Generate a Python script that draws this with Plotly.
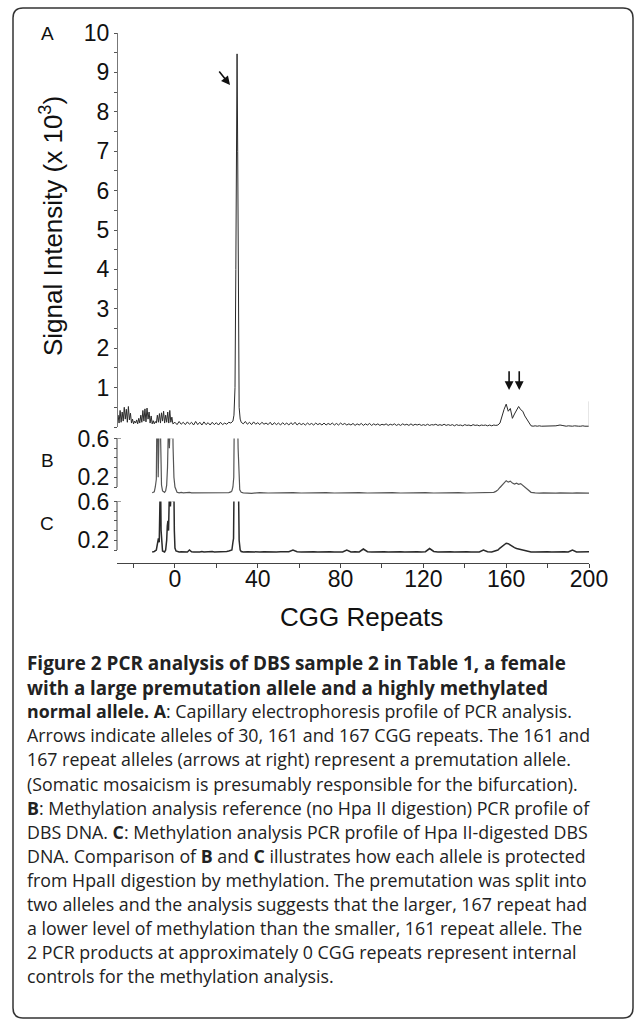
import plotly.graph_objects as go

W, H = 634, 1021

# ---------------- data (CGG repeats vs signal) ----------------
# Panel A : signal intensity (x 10^3)
A_left_x = [i / 2 for i in range(-56, -1)] + list(range(0, 29))
A_left_y = [0.05, 0.3, 0.1, 0.42, 0.12, 0.38, 0.15, 0.5, 0.2, 0.45,
            0.12, 0.52, 0.18, 0.35, 0.1, 0.2, 0.08, 0.15, 0.1, 0.18,
            0.08, 0.22, 0.1, 0.3, 0.12, 0.42, 0.15, 0.46, 0.13, 0.48,
            0.2, 0.38, 0.1, 0.28, 0.08, 0.16, 0.08, 0.14, 0.1, 0.3,
            0.12, 0.34, 0.1, 0.36, 0.15, 0.4, 0.1, 0.3, 0.12, 0.38,
            0.1, 0.42, 0.12, 0.25, 0.08,
            0.12, 0.06, 0.14, 0.07, 0.12, 0.06, 0.13, 0.07, 0.12, 0.05,
            0.14, 0.06, 0.12, 0.05, 0.13, 0.06, 0.11, 0.05, 0.12, 0.06,
            0.11, 0.05, 0.12, 0.06, 0.1, 0.07, 0.12, 0.1, 0.15]
A_peak_x = [28.5, 29, 29.4, 29.7, 30, 30.3, 30.6, 31, 31.5]
A_peak_y = [0.3, 1.0, 4.0, 8.8, 9.47, 7.0, 2.0, 0.5, 0.2]
A_right_x = list(range(32, 201))
A_right_y = [0.12, 0.08, 0.14, 0.07, 0.12, 0.06, 0.13, 0.07, 0.11, 0.06,
             0.12, 0.07, 0.1, 0.06, 0.12, 0.05, 0.11, 0.06, 0.1, 0.05,
             0.11, 0.06, 0.1, 0.05, 0.11, 0.06, 0.12, 0.05, 0.1, 0.06,
             0.09, 0.05, 0.1, 0.06, 0.09, 0.05, 0.1, 0.06, 0.09, 0.05,
             0.1, 0.05, 0.09, 0.06, 0.1, 0.05, 0.09, 0.05, 0.1, 0.06,
             0.09, 0.05, 0.08, 0.05, 0.09, 0.04, 0.08, 0.05, 0.09, 0.04,
             0.08, 0.05, 0.09, 0.04, 0.08, 0.05, 0.08, 0.04, 0.07, 0.05,
             0.08, 0.04, 0.07, 0.05, 0.08, 0.04, 0.07, 0.04, 0.08, 0.05,
             0.07, 0.04, 0.08, 0.04, 0.07, 0.05, 0.07, 0.04, 0.06, 0.04,
             0.07, 0.04, 0.06, 0.05, 0.07, 0.04, 0.06, 0.04, 0.07, 0.04,
             0.06, 0.04, 0.06, 0.03, 0.06, 0.04, 0.05, 0.03, 0.06, 0.04,
             0.05, 0.03, 0.06, 0.04, 0.05, 0.03, 0.05, 0.04, 0.05, 0.03,
             0.05, 0.03, 0.05, 0.04, 0.05,
             0.1, 0.3, 0.45, 0.58, 0.4, 0.47, 0.22, 0.33, 0.42, 0.52,
             0.44, 0.4, 0.28, 0.2, 0.09, 0.03,
             0.02, 0.03, 0.02, 0.03, 0.02, 0.02, 0.03, 0.02, 0.02, 0.03,
             0.02, 0.03, 0.04, 0.05, 0.04, 0.03, 0.02, 0.03, 0.02, 0.02,
             0.03, 0.02, 0.02, 0.02, 0.03, 0.02, 0.02, 0.02]
assert len(A_left_x) == len(A_left_y)
assert len(A_right_x) == len(A_right_y)
A_x = A_left_x + A_peak_x + A_right_x
A_y = A_left_y + A_peak_y + A_right_y

# Panel B : methylation reference (no Hpa II digestion)
B_x = ([-11, -10, -9.5, -9, -8.7, -8.4, -8.1, -7.8, -7.5, -7.2, -6.9, -6.5, -6,
        -5.5, -5, -4.5, -4, -3.6, -3.3, -3, -2.7, -2.4, -2.1, -1.8, -1.5, -1.2,
        -0.9, -0.5, 0, 0.5, 1]
       + list(range(2, 28))
       + [27.5, 28, 28.4, 28.7, 29, 29.3, 29.6, 29.9, 30.2, 30.5, 30.9, 31.3, 32]
       + list(range(33, 154, 4))
       + list(range(154, 173))
       + list(range(174, 201, 2)))
B_y = ([0.04, 0.05, 0.1, 0.18, 0.9, 0.9, 0.2, 0.9, 0.9, 0.9, 0.3, 0.12, 0.06,
        0.05, 0.045, 0.06, 0.12, 0.3, 0.9, 0.9, 0.5, 0.9, 0.9, 0.6, 0.9, 0.9,
        0.5, 0.2, 0.1, 0.06, 0.045]
       + [0.04, 0.045, 0.04, 0.042, 0.04, 0.045, 0.04, 0.04, 0.043, 0.04,
          0.04, 0.045, 0.04, 0.042, 0.04, 0.04, 0.045, 0.04, 0.04, 0.042,
          0.04, 0.045, 0.04, 0.04, 0.043, 0.05]
       + [0.06, 0.1, 0.2, 0.9, 0.9, 0.9, 0.9, 0.9, 0.9, 0.5, 0.15, 0.07, 0.045]
       + [0.04, 0.035, 0.042, 0.038, 0.04, 0.036, 0.042, 0.038, 0.04, 0.035,
          0.041, 0.038, 0.04, 0.036, 0.042, 0.038, 0.04, 0.035, 0.041, 0.038,
          0.04, 0.036, 0.042, 0.038, 0.04, 0.035, 0.041, 0.038, 0.04, 0.036,
          0.042]
       + [0.045, 0.055, 0.07, 0.095, 0.12, 0.145, 0.165, 0.15, 0.16, 0.14,
          0.13, 0.14, 0.128, 0.135, 0.115, 0.1, 0.08, 0.06, 0.045]
       + [0.04, 0.036, 0.04, 0.038, 0.04, 0.036, 0.04, 0.038, 0.04, 0.036,
          0.04, 0.038, 0.04, 0.037])
assert len(B_x) == len(B_y)

# Panel C : Hpa II-digested
C_x = ([-11, -10, -9, -8.5, -8, -7.6, -7.3, -7, -6.7, -6.4, -6, -5.5, -5, -4.5,
        -4, -3.7, -3.4, -3.1, -2.8, -2.5, -2.2, -1.9, -1.6, -1.3, -1, -0.6,
        -0.3, 0, 0.5, 1]
       + list(range(2, 28))
       + [27.5, 28, 28.3, 28.6, 29, 29.4, 29.8, 30.2, 30.6, 31, 31.5, 32]
       + list(range(33, 154, 2))
       + list(range(154, 173))
       + list(range(174, 201, 2)))
C_y = ([0.08, 0.085, 0.1, 0.15, 0.22, 0.18, 0.9, 0.9, 0.3, 0.12, 0.09, 0.085,
        0.08, 0.1, 0.2, 0.35, 0.4, 0.3, 0.9, 0.9, 0.55, 0.9, 0.9, 0.9, 0.6,
        0.9, 0.3, 0.12, 0.09, 0.085]
       + [0.08, 0.082, 0.08, 0.085, 0.08, 0.1, 0.082, 0.08, 0.083, 0.08,
          0.08, 0.085, 0.08, 0.082, 0.08, 0.08, 0.084, 0.08, 0.08, 0.083,
          0.08, 0.082, 0.08, 0.085, 0.09, 0.095]
       + [0.1, 0.18, 0.22, 0.9, 0.9, 0.9, 0.9, 0.9, 0.9, 0.2, 0.1, 0.085]
       + [0.08, 0.082, 0.08, 0.083, 0.08, 0.082, 0.08, 0.084, 0.08, 0.082,
          0.08, 0.083, 0.1, 0.082, 0.08, 0.083, 0.08, 0.082, 0.08, 0.083,
          0.08, 0.082, 0.08, 0.083, 0.08, 0.1, 0.08, 0.082, 0.08, 0.11,
          0.082, 0.08, 0.083, 0.08, 0.082, 0.08, 0.083, 0.08, 0.082, 0.08,
          0.083, 0.08, 0.082, 0.08, 0.083, 0.115, 0.085, 0.08, 0.082, 0.08,
          0.083, 0.08, 0.082, 0.08, 0.083, 0.08, 0.082, 0.08, 0.1, 0.082,
          0.08]
       + [0.085, 0.09, 0.1, 0.12, 0.14, 0.16, 0.17, 0.165, 0.15, 0.14, 0.125,
          0.115, 0.11, 0.1, 0.1, 0.095, 0.09, 0.085, 0.08]
       + [0.08, 0.082, 0.08, 0.083, 0.08, 0.082, 0.08, 0.083, 0.08, 0.1,
          0.08, 0.082, 0.08, 0.081])
assert len(C_x) == len(C_y)

X_RANGE = [-28, 200]
A_TICKS = list(range(1, 11))
BC_TICKS = [0.1, 0.2, 0.3, 0.4, 0.5, 0.6]
BC_TEXT = ["", "0.2", "", "", "", "0.6"]

# Arrows: (tail x, tail y) -> (head x, head y) in data units of panel A
ARROWS = [((20.8, 9.06), (26.6, 8.68)),
          ((161.4, 1.45), (161.4, 0.94)),
          ((166.3, 1.45), (166.3, 0.94))]

CAPTION = [
    "<b>Figure 2 PCR analysis of DBS sample 2 in Table 1, a female</b>",
    "<b>with a large premutation allele and a highly methylated</b>",
    "<b>normal allele. A</b>: Capillary electrophoresis profile of PCR analysis.",
    "Arrows indicate alleles of 30, 161 and 167 CGG repeats. The 161 and",
    "167 repeat alleles (arrows at right) represent a premutation allele.",
    "(Somatic mosaicism is presumably responsible for the bifurcation).",
    "<b>B</b>: Methylation analysis reference (no Hpa II digestion) PCR profile of",
    "DBS DNA. <b>C</b>: Methylation analysis PCR profile of Hpa II-digested DBS",
    "DNA. Comparison of <b>B</b> and <b>C</b> illustrates how each allele is protected",
    "from HpaII digestion by methylation. The premutation was split into",
    "two alleles and the analysis suggests that the larger, 167 repeat had",
    "a lower level of methylation than the smaller, 161 repeat allele. The",
    "2 PCR products at approximately 0 CGG repeats represent internal",
    "controls for the methylation analysis.",
]
CAPTION_SIZES = [18.9, 18.7] + [17.8] * 12

# ---------------- layout helpers ----------------
def px(x):
    return x / W

def py(y):
    return 1 - y / H

AX_L, AX_R = 117, 589
FONT = "Liberation Sans, Arial, sans-serif"
CAP_FONT = "Open Sans, sans-serif"

fig = go.Figure()
fig.add_trace(go.Scatter(x=A_x, y=A_y, mode="lines", xaxis="x", yaxis="y",
                         line=dict(color="#2a2a2a", width=1), showlegend=False))
fig.add_trace(go.Scatter(x=B_x, y=B_y, mode="lines", xaxis="x", yaxis="y2",
                         line=dict(color="#555555", width=1.2), showlegend=False))
fig.add_trace(go.Scatter(x=C_x, y=C_y, mode="lines", xaxis="x", yaxis="y3",
                         line=dict(color="#2a2a2a", width=1.5), showlegend=False))

ytick_common = dict(ticks="outside", ticklen=3, tickcolor="#555", tickwidth=1,
                    tickfont=dict(family=FONT, size=23, color="#111"),
                    showgrid=False, zeroline=False, anchor="free",
                    position=px(AX_L), fixedrange=True, automargin=False)

fig.update_layout(
    template="none",
    width=W, height=H, autosize=False,
    margin=dict(l=0, r=0, t=0, b=0, pad=0, autoexpand=False),
    paper_bgcolor="white", plot_bgcolor="rgba(0,0,0,0)",
    xaxis=dict(domain=[px(AX_L), px(AX_R)], range=X_RANGE, anchor="free",
               position=py(563), showline=True, linecolor="#444", linewidth=1,
               ticks="outside", ticklen=4, tickcolor="#444", tick0=0, dtick=40,
               minor=dict(ticks="outside", ticklen=4, dtick=20, tick0=0,
                          tickcolor="#444"),
               ticklabelstandoff=-9,
               tickfont=dict(family=FONT, size=23, color="#111"),
               showgrid=False, zeroline=False, automargin=False, fixedrange=True),
    yaxis=dict(domain=[py(427), py(33)], range=[0, 10], tickvals=A_TICKS,
               showline=True, linecolor="#777", linewidth=1,
               minor=dict(ticks="outside", ticklen=3, dtick=0.5, tick0=0,
                          tickcolor="#555"),
               **ytick_common),
    yaxis2=dict(domain=[py(500), py(438.5)], range=[0.6 - 61.5 / 97, 0.6],
                tickvals=BC_TICKS, ticktext=BC_TEXT, showline=False,
                **ytick_common),
    yaxis3=dict(domain=[py(557), py(501.5)], range=[0.6 - 55.5 / 97, 0.6],
                tickvals=BC_TICKS, ticktext=BC_TEXT, showline=False,
                **ytick_common),
)

# y axis lines for B and C (from 0.1 to 0.6) with small bracket at top
for yr in ("y2", "y3"):
    fig.add_shape(type="line", xref="paper", yref=yr, x0=px(AX_L), x1=px(AX_L),
                  y0=BC_TICKS[0], y1=BC_TICKS[-1], line=dict(color="#444", width=1))
    fig.add_shape(type="line", xref="paper", yref=yr, x0=px(AX_L), x1=px(AX_L + 4),
                  y0=BC_TICKS[-1], y1=BC_TICKS[-1], line=dict(color="#444", width=1))

# faint right frame of panel A
fig.add_shape(type="line", xref="x", yref="y", x0=X_RANGE[1], x1=X_RANGE[1],
              y0=0, y1=0.65, line=dict(color="#cccccc", width=1))

# arrows
for (tx, ty), (hx, hy) in ARROWS:
    fig.add_annotation(x=hx, y=hy, ax=tx, ay=ty, xref="x", yref="y",
                       axref="x", ayref="y", showarrow=True, arrowhead=2,
                       arrowsize=1.1, arrowwidth=1.6, arrowcolor="#111", text="")

# panel letters
for letter, yy in (("A", 33), ("B", 460), ("C", 523)):
    fig.add_annotation(x=px(47), y=py(yy), xref="paper", yref="paper", text=letter,
                       showarrow=False, xanchor="center", yanchor="middle",
                       font=dict(family=FONT, size=19, color="#111"))

# axis titles
fig.add_annotation(x=px(52), y=py(226), xref="paper", yref="paper",
                   text="Signal Intensity (x 10<sup>3</sup>)", textangle=-90,
                   xanchor="center", yanchor="middle",
                   showarrow=False, font=dict(family=FONT, size=26, color="#111"))
fig.add_annotation(x=px(361), y=py(617), xref="paper", yref="paper",
                   text="CGG Repeats", showarrow=False,
                   xanchor="center", yanchor="middle",
                   font=dict(family=FONT, size=26, color="#111"))

# caption
for i, (line, size) in enumerate(zip(CAPTION, CAPTION_SIZES)):
    fig.add_annotation(x=px(25), y=py(663 + 24.1 * i), xref="paper", yref="paper",
                       text=line, showarrow=False, xanchor="left", yanchor="middle",
                       font=dict(family=CAP_FONT, size=size, color="#222222"))

# rounded border
x0, x1, y0, y1 = px(13), px(633), py(1018), py(8)
rx, ry = 10 / W, 10 / H
path = (f"M {x0 + rx},{y1} L {x1 - rx},{y1} Q {x1},{y1} {x1},{y1 - ry} "
        f"L {x1},{y0 + ry} Q {x1},{y0} {x1 - rx},{y0} L {x0 + rx},{y0} "
        f"Q {x0},{y0} {x0},{y0 + ry} L {x0},{y1 - ry} Q {x0},{y1} {x0 + rx},{y1} Z")
fig.add_shape(type="path", xref="paper", yref="paper", path=path,
              line=dict(color="#333", width=1.5))

PIN = ("document.body.style.margin='0';document.body.style.padding='0';"
       "var gd=document.getElementById('{plot_id}');"
       "gd.style.position='absolute';gd.style.left='0px';gd.style.top='0px';")
fig.write_html("out.html", post_script=PIN, config={"displayModeBar": False})
